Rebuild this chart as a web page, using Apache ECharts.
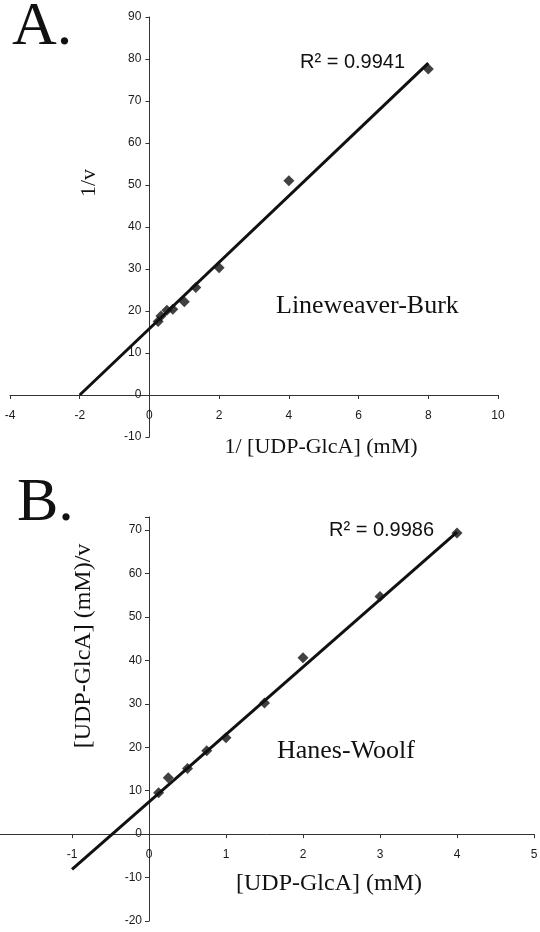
<!DOCTYPE html>
<html lang="en">
<head>
    <meta charset="UTF-8">
    <title>Lineweaver-Burk / Hanes-Woolf</title>
    <script src="https://cdn.jsdelivr.net/npm/echarts@6/dist/echarts.min.js"></script>
    <style>
        html, body { margin: 0; padding: 0; background: #fff; }
    </style>
</head>
<body>
    <div id="main" style="width: 540px; height: 932px;"></div>

    <script>
        // A: Lineweaver-Burk (1/[S] vs 1/v)
        var lbX = [0.25, 0.33, 0.5, 0.67, 1, 1.33, 2, 4, 8];
        var lbY = [17.5, 18.8, 20.2, 20.4, 22.2, 25.6, 30.3, 51, 77.6];
        var lbFitX = [-2, 8];
        var lbFitY = [0, 79];

        // B: Hanes-Woolf ([S] vs [S]/v)
        var hwX = [0.125, 0.25, 0.5, 0.75, 1, 1.5, 2, 3, 4];
        var hwY = [9.5, 13.0, 15.1, 19.2, 22.2, 30.2, 40.6, 54.7, 69.3];
        var hwFitX = [-1, 4];
        var hwFitY = [-8.1, 69.5];

        var lbR2 = 'R² = 0.9941';
        var hwR2 = 'R² = 0.9986';

        function pairs(xs, ys) {
            return xs.map(function (x, i) { return [x, ys[i]]; });
        }

        var sans = 'Liberation Sans, Arial, sans-serif';
        var serif = 'Liberation Serif, Times New Roman, serif';
        var ink = '#111';

        // grid boxes (px) - axes crossing at zero are moved there with offset
        var gA = { left: 10, top: 17, width: 488, height: 420 };
        var gB = { left: -5, top: 517, width: 539, height: 404 };

        function valueAxis(gridIndex, min, max, interval, margin, offset) {
            return {
                type: 'value',
                gridIndex: gridIndex,
                min: min,
                max: max,
                interval: interval,
                offset: offset,
                splitLine: { show: false },
                axisLine: { show: true, onZero: false, lineStyle: { color: '#333', width: 1 } },
                axisTick: { show: true, length: 4, lineStyle: { color: '#333' } },
                axisLabel: {
                    margin: margin,
                    color: '#1a1a1a',
                    fontFamily: sans,
                    fontSize: 12,
                    hideOverlap: false,
                    formatter: function (v) { return (v % interval === 0) ? String(v) : ''; }
                }
            };
        }

        // distance from the grid's low edge to the zero of an axis
        function zeroShift(min, max, size) {
            return -(0 - min) / (max - min) * size;
        }

        function text(str, x, y, font, size, align, rot) {
            return {
                type: 'text',
                x: x,
                y: y,
                rotation: rot || 0,
                style: {
                    text: str,
                    fill: ink,
                    font: size + 'px ' + font,
                    align: align || 'left',
                    verticalAlign: 'middle'
                }
            };
        }

        var chart = echarts.init(document.getElementById('main'), null, { renderer: 'canvas' });

        var option = {
            backgroundColor: '#fff',
            animation: false,
            grid: [
                { left: gA.left, top: gA.top, width: gA.width, height: gA.height, containLabel: false, outerBoundsMode: 'none' },
                { left: gB.left, top: gB.top, width: gB.width, height: gB.height, containLabel: false, outerBoundsMode: 'none' }
            ],
            xAxis: [
                valueAxis(0, -4, 10, 2, 15, zeroShift(-10, 90, gA.height)),
                valueAxis(1, -2, 5, 1, 15, zeroShift(-20, 73, gB.height))
            ],
            yAxis: [
                valueAxis(0, -10, 90, 10, 8, zeroShift(-4, 10, gA.width)),
                valueAxis(1, -20, 73, 10, 7, zeroShift(-2, 5, gB.width))
            ],
            series: [
                {
                    type: 'line', xAxisIndex: 0, yAxisIndex: 0,
                    data: pairs(lbFitX, lbFitY),
                    showSymbol: false,
                    lineStyle: { color: ink, width: 3 }
                },
                {
                    type: 'scatter', xAxisIndex: 0, yAxisIndex: 0,
                    data: pairs(lbX, lbY),
                    symbol: 'diamond',
                    symbolSize: 11,
                    itemStyle: { color: ink }
                },
                {
                    type: 'line', xAxisIndex: 1, yAxisIndex: 1,
                    data: pairs(hwFitX, hwFitY),
                    showSymbol: false,
                    lineStyle: { color: ink, width: 3 }
                },
                {
                    type: 'scatter', xAxisIndex: 1, yAxisIndex: 1,
                    data: pairs(hwX, hwY),
                    symbol: 'diamond',
                    symbolSize: 11,
                    itemStyle: { color: ink }
                }
            ],
            graphic: [
                text('A.', 12, 28, serif, 62),
                text('B.', 17, 504, serif, 62),
                text(lbR2, 300, 62, sans, 20),
                text(hwR2, 329, 530, sans, 20),
                text('Lineweaver-Burk', 276, 306, serif, 26),
                text('Hanes-Woolf', 277, 751, serif, 26),
                text('1/ [UDP-GlcA] (mM)', 321, 447, serif, 22, 'center'),
                text('[UDP-GlcA] (mM)', 329, 884, serif, 24, 'center'),
                text('1/v', 89, 183, serif, 22, 'center', Math.PI / 2),
                text('[UDP-GlcA] (mM)/v', 84, 646, serif, 24, 'center', Math.PI / 2)
            ]
        };

        chart.setOption(option);
    </script>
</body>
</html>
